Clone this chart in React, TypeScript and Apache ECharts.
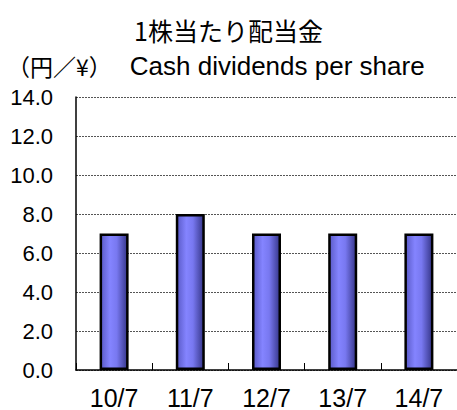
import React, { useEffect, useRef } from "react";
import * as echarts from "echarts";

const categories = ["10/7", "11/7", "12/7", "13/7", "14/7"];
const dividends = [7, 8, 7, 7, 7];
const yTicks = { min: 0, max: 14, interval: 2 };
const titleText = "1株当たり配当金";
const unitText = "（円／¥）";
const subtitleText = "Cash dividends per share";

const CJK = "'Noto Sans CJK JP', sans-serif";
const LAT = "'Liberation Sans', Arial, sans-serif";

export default function App() {
  const ref = useRef<HTMLDivElement>(null);
  useEffect(() => {
    if (!ref.current) return;
    const chart = echarts.init(ref.current, undefined, { renderer: "svg" });
    chart.setOption({
      animation: false,
      backgroundColor: "#ffffff",
      graphic: [
        {
          type: "text",
          x: 228.5,
          y: 30,
          style: {
            text: titleText,
            font: `25px ${CJK}`,
            fill: "#000",
            textAlign: "center",
            textVerticalAlign: "middle",
          },
        },
        {
          type: "text",
          x: 7,
          y: 66,
          style: {
            text: `{a|${unitText}}{b|${subtitleText}}`,
            fill: "#000",
            textAlign: "left",
            textVerticalAlign: "middle",
            rich: {
              a: { fontFamily: CJK, fontSize: 23, color: "#000", padding: [0, 18, 0, 0] },
              b: { fontFamily: LAT, fontSize: 26, color: "#000" },
            },
          },
        },
      ],
      grid: { left: 76, top: 97, width: 392.5, height: 274.7, containLabel: false },
      xAxis: {
        type: "category",
        data: categories,
        axisLine: { show: true, lineStyle: { color: "#000", width: 1.5 } },
        axisTick: { show: true, inside: true, length: 7, lineStyle: { color: "#000" } },
        axisLabel: { color: "#000", fontSize: 25, fontFamily: LAT, margin: 15 },
        splitLine: { show: false },
      },
      yAxis: {
        type: "value",
        min: yTicks.min,
        max: yTicks.max,
        interval: yTicks.interval,
        axisLine: { show: true, lineStyle: { color: "#000", width: 1.5 } },
        axisTick: { show: false },
        axisLabel: {
          color: "#000",
          fontSize: 22,
          fontFamily: LAT,
          margin: 23,
          formatter: (v: number) => v.toFixed(1),
        },
        splitLine: { show: true, lineStyle: { color: "#555", type: [2, 1], width: 1 } },
      },
      series: [
        {
          type: "bar",
          data: dividends,
          barWidth: 29,
          itemStyle: {
            borderColor: "#000",
            borderWidth: 2.5,
            color: new echarts.graphic.LinearGradient(0, 0, 1, 0, [
              { offset: 0, color: "#5a5ac8" },
              { offset: 0.35, color: "#8484ff" },
              { offset: 0.6, color: "#7878f0" },
              { offset: 1, color: "#36368a" },
            ]),
          },
        },
      ],
    });
    return () => chart.dispose();
  }, []);
  return (
    <div
      ref={ref}
      style={{ position: "fixed", left: 0, top: 0, width: 457, height: 410 }}
    />
  );
}
